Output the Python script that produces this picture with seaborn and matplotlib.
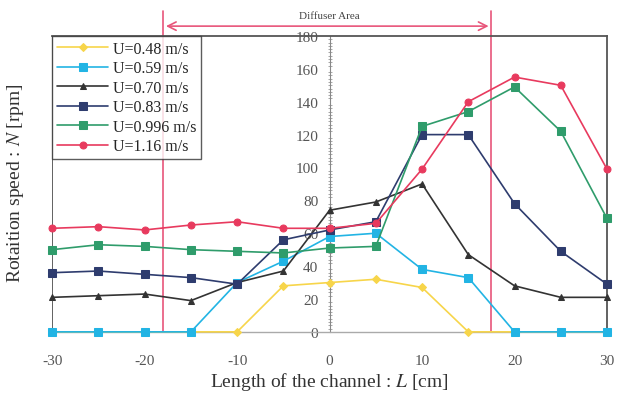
import numpy as np
import pandas as pd
import matplotlib
matplotlib.use("Agg")
import matplotlib.pyplot as plt
import seaborn as sns
from matplotlib.ticker import MultipleLocator

# Data
L = [-30, -25, -20, -15, -10, -5, 0, 5, 10, 15, 20, 25, 30]
n_048 = [0, 0, 0, 0, 0, 28, 30, 32, 27, 0, 0, 0, 0]
n_059 = [0, 0, 0, 0, 30, 43, 58, 60, 38, 33, 0, 0, 0]
n_070 = [21, 22, 23, 19, 30, 37, 74, 79, 90, 47, 28, 21, 21]
n_083 = [36, 37, 35, 33, 29, 56, 62, 67, 120, 120, 78, 49, 29]
n_0996 = [50, 53, 52, 50, 49, 48, 51, 52, 125, 134, 149, 122, 69]
n_116 = [63, 64, 62, 65, 67, 63, 63, 66, 99, 140, 155, 150, 99]

labels = ["U=0.48 m/s", "U=0.59 m/s", "U=0.70 m/s", "U=0.83 m/s", "U=0.996 m/s", "U=1.16 m/s"]
series = [n_048, n_059, n_070, n_083, n_0996, n_116]
colors = ["#F7D54A", "#22B4E4", "#333333", "#2E3C6E", "#2F9C6B", "#E83A5E"]
markers = ["D", "s", "^", "s", "s", "o"]
msizes = [4, 6, 5, 6, 6, 5]

diffuser = [-18, 17.5]

sns.set_style("white")
plt.rcParams["font.family"] = ["Liberation Serif", "DejaVu Serif"]
plt.rcParams["mathtext.fontset"] = "stix"
plt.rcParams["axes.unicode_minus"] = False

fig = plt.figure(figsize=(6.29, 4.02), dpi=100)
ax = fig.add_axes([0.083, 0.172, 0.882, 0.736])

for vals, lab, c, m, ms in zip(series, labels, colors, markers, msizes):
    df = pd.DataFrame({"L": L, "N": vals})
    sns.lineplot(data=df, x="L", y="N", ax=ax, color=c, marker=m, markersize=ms,
                 markeredgecolor=c, linewidth=1.2, label=lab, clip_on=False, zorder=3)

ax.set_xlim(-30, 30)
ax.set_ylim(0, 180)

# y axis drawn through L = 0
ax.spines["left"].set_position(("data", 0))
ax.spines["left"].set_color("#888888")
ax.spines["bottom"].set_color("#aaaaaa")
ax.spines["bottom"].set_linewidth(1.0)
for s in ["top", "right"]:
    ax.spines[s].set_color("#555555")
    ax.spines[s].set_linewidth(1.3)
ax.axvline(-30, color="#555555", lw=1.3, zorder=1)

ax.yaxis.set_major_locator(MultipleLocator(20))
ax.yaxis.set_minor_locator(MultipleLocator(2))
ax.tick_params(axis="y", which="major", direction="inout", length=6, color="#999999",
               labelsize=11, labelcolor="#555555", pad=5)
ax.tick_params(axis="y", which="minor", direction="inout", length=3, color="#999999", left=True)
ax.set_xticks(range(-30, 31, 10))
ax.tick_params(axis="x", length=0, labelsize=11, labelcolor="#555555", pad=16)

ax.set_xlabel("Length of the channel : $\\mathit{L}$ [cm]", fontsize=14, color="#333333", labelpad=2)
ax.set_ylabel("")
fig.text(0.024, 0.545, "Rotaition speed : $\\mathit{N}$ [rpm]", rotation=90, fontsize=14,
         color="#333333", ha="center", va="center")

# diffuser area
for xv in diffuser:
    ax.plot([xv, xv], [0, 195], color="#E8557A", lw=1.2, clip_on=False, zorder=2)
ax.annotate("", xy=(diffuser[0], 186), xytext=(diffuser[1], 186),
            arrowprops=dict(arrowstyle="<->,head_length=0.6,head_width=0.3",
                            color="#E8557A", lw=1.2), annotation_clip=False)
ax.text(0, 190, "Diffuser Area", ha="center", va="bottom", fontsize=8, color="#444444")

leg = ax.legend(loc="upper left", bbox_to_anchor=(0, 1), frameon=True, fancybox=False,
                edgecolor="#333333", fontsize=11.5, handlelength=3.2, borderpad=0.3,
                labelspacing=0.22, handletextpad=0.3, borderaxespad=0)
leg.get_frame().set_linewidth(1.0)
leg.set_zorder(5)

fig.savefig("out.png", dpi=100)
